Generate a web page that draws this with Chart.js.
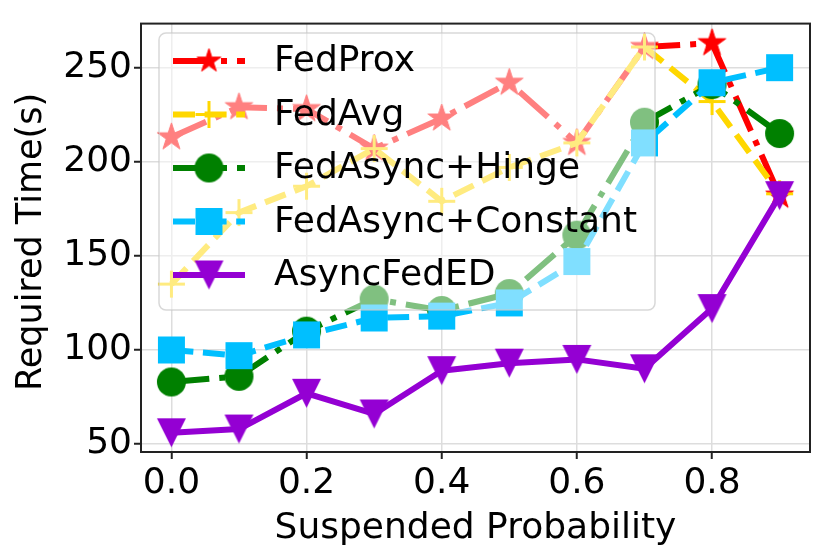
<!DOCTYPE html>
<html>
<head>
<meta charset="utf-8">
<script src="https://cdn.jsdelivr.net/npm/chart.js@4.4.1/dist/chart.umd.min.js"></script>
<style>
    html, body { margin: 0; padding: 0; background: #fff; }
    #wrap { width: 830px; height: 560px; }
</style>
</head>
<body>
<div id="wrap"><canvas id="chart" width="830" height="560"></canvas></div>
<script>
// values
const probs = [0.0, 0.1, 0.2, 0.3, 0.4, 0.5, 0.6, 0.7, 0.8, 0.9];
const fedProx = [213, 229, 228, 207, 223, 242, 210, 261, 263, 182];
const fedAvg = [135, 173, 187, 207, 179, 197, 210, 261, 232, 183];
const fedAsyncHinge = [83, 86, 110, 127, 121, 130, 161, 221, 241, 215];
const fedAsyncConstant = [100, 97, 108, 117, 118, 125, 147, 210, 242, 250];
const asyncFedED = [56, 58, 77, 66, 89, 93, 95, 90, 122, 182];
const seriesNames = ["FedProx", "FedAvg", "FedAsync+Hinge", "FedAsync+Constant", "AsyncFedED"];
const xTicks = [0.0, 0.2, 0.4, 0.6, 0.8];
const yTicks = [50, 100, 150, 200, 250];
const yTitle = "Required Time(s)";

const FONT = '"DejaVu Sans", sans-serif';
const FS = 36;
const LW = 6;
const DASHDOT = [38, 10, 6, 10];
const DASHED = [22, 9.6];

// build a marker image like matplotlib's filled markers
function makeMarker(kind, color, size) {
    const pad = 4;
    const c = document.createElement("canvas");
    c.width = c.height = Math.ceil(size + pad * 2);
    const g = c.getContext("2d");
    const m = c.width / 2, r = size / 2;
    g.fillStyle = color;
    g.strokeStyle = color;
    g.lineWidth = 1;
    g.beginPath();
    if (kind === "star") {
        for (let k = 0; k < 10; k++) {
            const rad = k % 2 ? r * 0.382 : r;
            const a = -Math.PI / 2 + k * Math.PI / 5;
            g.lineTo(m + rad * Math.cos(a), m + rad * Math.sin(a));
        }
        g.closePath();
        g.fill();
        g.stroke();
    } else if (kind === "circle") {
        g.arc(m, m, r, 0, Math.PI * 2);
        g.fill();
    } else if (kind === "square") {
        g.rect(m - r, m - r, size, size);
        g.fill();
    } else if (kind === "tridown") {
        g.moveTo(m - r, m - r);
        g.lineTo(m + r, m - r);
        g.lineTo(m, m + r);
        g.closePath();
        g.fill();
    } else if (kind === "plus") {
        g.lineWidth = 3;
        g.moveTo(m - r, m);
        g.lineTo(m + r, m);
        g.moveTo(m, m - r);
        g.lineTo(m, m + r);
        g.stroke();
    }
    return c;
}

const styles = [
    {color: "#ff0000", dash: DASHDOT, marker: makeMarker("star", "#ff0000", 29), legendMarker: makeMarker("star", "#ff0000", 25)},
    {color: "#ffd700", dash: DASHED, marker: makeMarker("plus", "#ffd700", 27)},
    {color: "#008000", dash: DASHDOT, marker: makeMarker("circle", "#008000", 29)},
    {color: "#00bfff", dash: DASHED, marker: makeMarker("square", "#00bfff", 27)},
    {color: "#9400d3", dash: [], marker: makeMarker("tridown", "#9400d3", 29)}
];
const allValues = [fedProx, fedAvg, fedAsyncHinge, fedAsyncConstant, asyncFedED];

const datasets = allValues.map((vals, i) => ({
    label: seriesNames[i],
    data: probs.map((p, j) => ({x: p, y: vals[j]})),
    borderColor: styles[i].color,
    backgroundColor: styles[i].color,
    borderWidth: LW,
    borderDash: styles[i].dash,
    borderCapStyle: "butt",
    borderJoinStyle: "round",
    pointStyle: styles[i].marker,
    pointRadius: 14,
    tension: 0,
    order: allValues.length - i
}));

// top and right spines, plus the y axis title
const frame = {
    id: "frame",
    afterDatasetsDraw(chart) {
        const a = chart.chartArea;
        const ctx = chart.ctx;
        ctx.save();
        ctx.strokeStyle = "#222";
        ctx.lineWidth = 2;
        ctx.strokeRect(a.left, a.top, a.right - a.left, a.bottom - a.top);
        ctx.translate(32, 242);
        ctx.rotate(-Math.PI / 2);
        ctx.fillStyle = "#000";
        ctx.font = "35px " + FONT;
        ctx.textAlign = "center";
        ctx.textBaseline = "middle";
        ctx.fillText(yTitle, 0, 0);
        ctx.restore();
    }
};

// matplotlib style legend box inside the plot
const boxLegend = {
    id: "boxLegend",
    afterDraw(chart) {
        const ctx = chart.ctx;
        const x0 = 159, y0 = 33, w = 496, h = 277, rr = 7;
        ctx.save();
        ctx.beginPath();
        ctx.roundRect(x0, y0, w, h, rr);
        ctx.fillStyle = "rgba(255,255,255,0.5)";
        ctx.fill();
        ctx.strokeStyle = "rgba(200,200,200,0.7)";
        ctx.lineWidth = 1.5;
        ctx.stroke();
        seriesNames.forEach((name, i) => {
            const cy = 61 + i * 53.5;
            const st = styles[i];
            ctx.beginPath();
            ctx.setLineDash(st.dash);
            ctx.lineCap = "butt";
            ctx.strokeStyle = st.color;
            ctx.lineWidth = LW;
            ctx.moveTo(173, cy);
            ctx.lineTo(245, cy);
            ctx.stroke();
            ctx.setLineDash([]);
            const mk = st.legendMarker || st.marker;
            ctx.drawImage(mk, 209 - mk.width / 2, cy - mk.height / 2);
            ctx.fillStyle = "#000";
            ctx.font = FS + "px " + FONT;
            ctx.textBaseline = "middle";
            ctx.fillText(name, 274, cy + 1);
        });
        ctx.restore();
    }
};

new Chart(document.getElementById("chart"), {
    type: "line",
    data: {datasets: datasets},
    options: {
        responsive: false,
        animation: false,
        events: [],
        layout: {padding: {left: 0, top: 14, right: 14, bottom: 0}},
        plugins: {legend: {display: false}, tooltip: {enabled: false}},
        scales: {
            x: {
                type: "linear",
                min: -0.045,
                max: 0.945,
                afterBuildTicks: (s) => { s.ticks = xTicks.map(v => ({value: v})); },
                afterFit: (s) => { s.height = 108; },
                ticks: {
                    callback: (v) => v.toFixed(1),
                    font: {family: FONT, size: FS},
                    color: "#000",
                    padding: 3,
                    maxRotation: 0,
                    autoSkip: false
                },
                grid: {color: "#dddddd", lineWidth: 1.5, tickLength: 7, tickColor: "#222", tickWidth: 2},
                border: {display: true, color: "#222", width: 2},
                title: {
                    display: true,
                    text: "Suspended Probability",
                    font: {family: FONT, size: FS},
                    color: "#000",
                    padding: {top: 0, bottom: 10}
                }
            },
            y: {
                min: 45.8,
                max: 273.4,
                afterBuildTicks: (s) => { s.ticks = yTicks.map(v => ({value: v})); },
                afterFit: (s) => { s.width = 141; },
                ticks: {
                    font: {family: FONT, size: FS},
                    color: "#000",
                    padding: 2
                },
                grid: {color: "#dddddd", lineWidth: 1.5, tickLength: 7, tickColor: "#222", tickWidth: 2},
                border: {display: true, color: "#222", width: 2}
            }
        }
    },
    plugins: [frame, boxLegend]
});
</script>
</body>
</html>
